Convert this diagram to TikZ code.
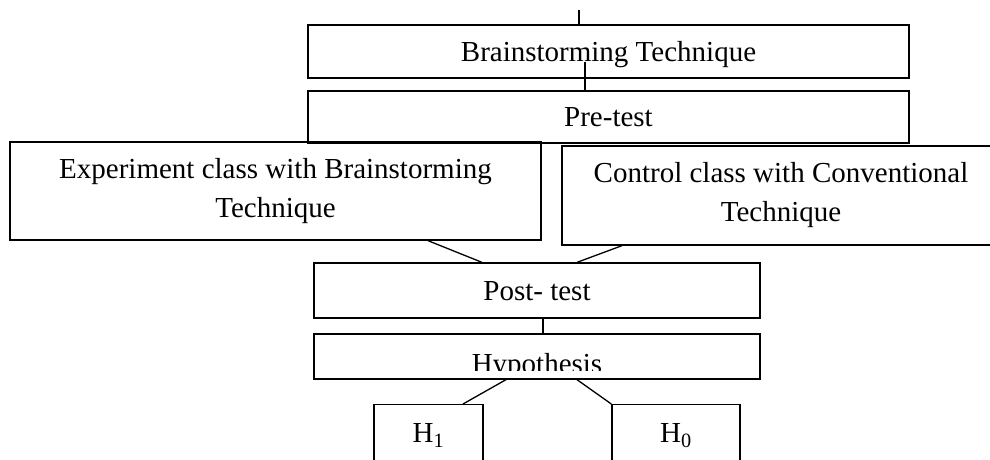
\documentclass[tikz,border=0pt]{standalone}
\usepackage{fontspec}
\setmainfont{Liberation Serif}
\usetikzlibrary{positioning, calc}

\tikzset{
    box/.style={draw=black, line width=1.3pt, inner sep=0pt, align=center, font=\fontsize{29}{39}\selectfont},
    oneline/.style={text depth=0pt},
    link/.style={draw=black, line width=1.3pt}
}

\begin{document}
\begin{tikzpicture}[x=1pt, y=-1pt]
    \useasboundingbox (0,0) rectangle (990,459);

    % stacked boxes
    \foreach \name/\cx/\cy/\w/\h/\opt/\txt in {
        brain/608.5/51.5/601/53/oneline/{Brainstorming Technique},
        pre/608.5/117/601/52/oneline/{Pre-test},
        exp/275.5/191/531/98/{}/{Experiment class with Brainstorming\\Technique},
        ctrl/781/195.5/438/99/{}/{Control class with Conventional\\Technique},
        post/537/290.5/446/55/oneline/{Post- test},
        hyp/537/356.5/446/45/{}/{}}{

        \node[box, \opt, minimum width=\w, minimum height=\h] (\name) at (\cx,\cy) {\txt};
    }

    % hypothesis text, cut at the bottom
    \begin{scope}
        \clip (hyp.north west) rectangle ([yshift=-13.5pt]hyp.east);
        \node[font=\fontsize{29}{39}\selectfont, anchor=base] (hyptxt) at ([yshift=-16.5pt]hyp.center) {Hypothesis};
    \end{scope}

    % the two hypotheses
    \foreach \name/\cx/\w/\i in {
        h1/428.5/109/1,
        h0/676/128/0}{

        \node[box, anchor=north, minimum width=\w, text height=38pt, text depth=40pt] (\name) at (\cx,404) {H\textsubscript{\i}};
    }

    % connectors
    \coordinate (in) at (579,10);
    \draw[link] (in) -- (in |- brain.north);
    \draw[link] ([xshift=-23.5pt,yshift=-10.5pt]brain.center) -- ([xshift=-23.5pt]pre.north);
    \draw[link] ([xshift=152.5pt]exp.south) -- ([xshift=-55pt]post.north);
    \draw[link] ([xshift=-159pt]ctrl.south) -- ([xshift=40pt]post.north);
    \draw[link] ([xshift=6pt]post.south) -- ([xshift=6pt]hyp.north);
    \draw[link] ([xshift=-31pt]hyp.south) -- ([xshift=34.5pt]h1.north);
    \draw[link] ([xshift=40pt]hyp.south) -- (h0.north west);
\end{tikzpicture}
\end{document}
